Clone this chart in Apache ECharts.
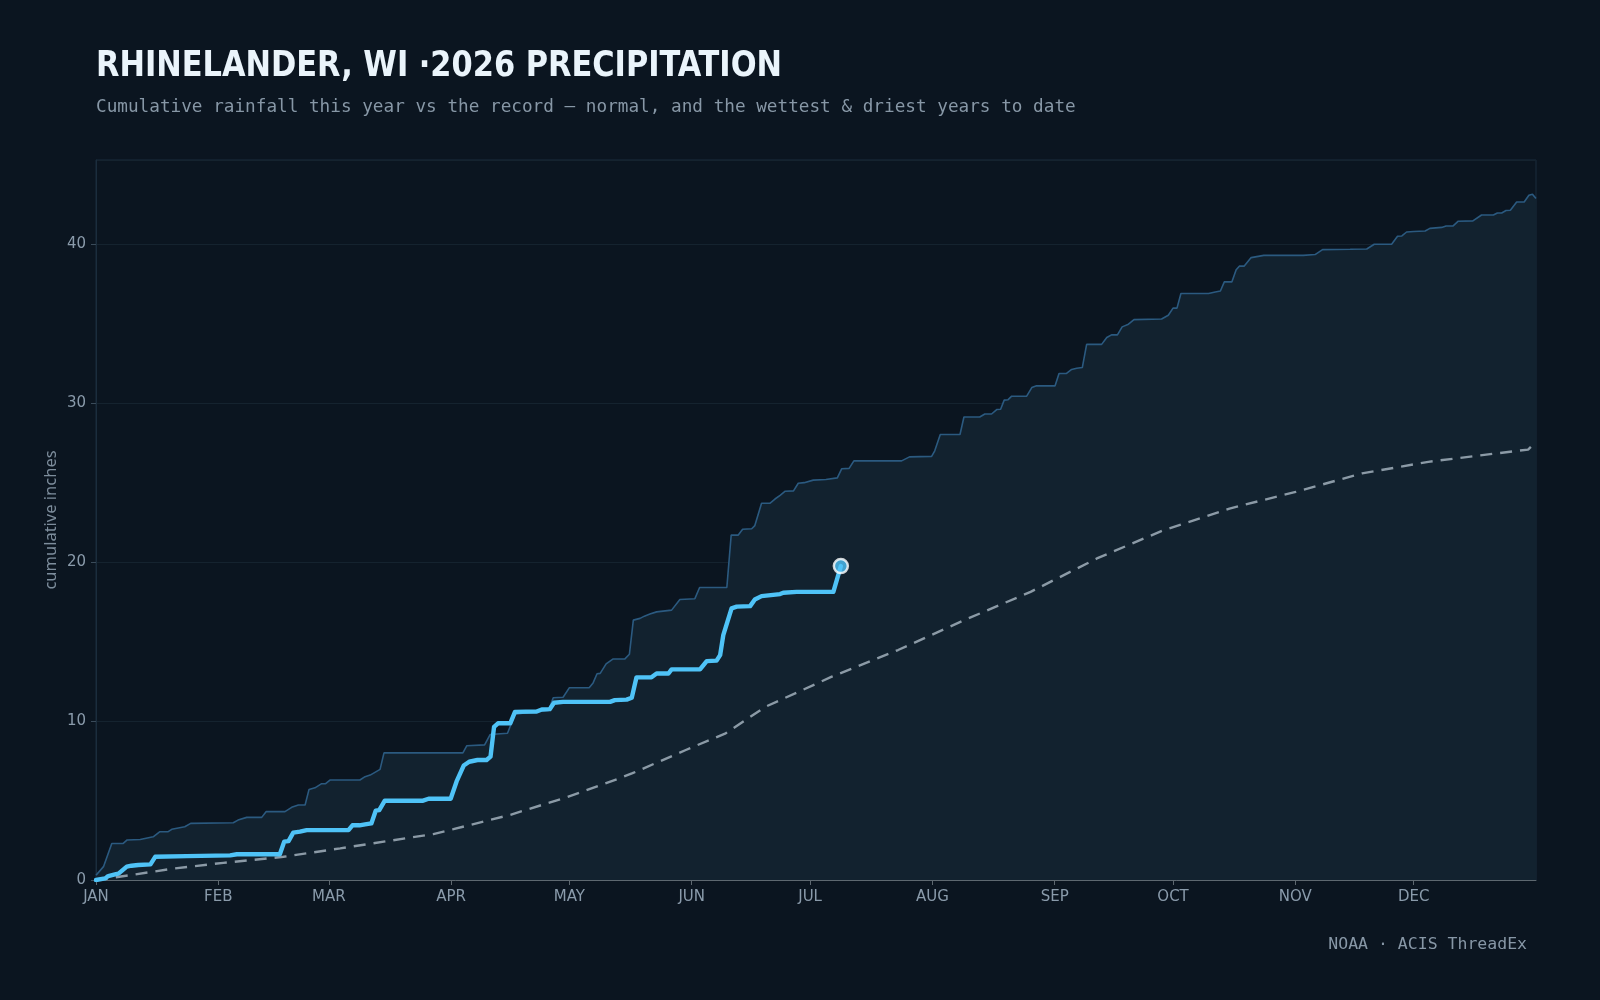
<!DOCTYPE html>
<html>
<head>
<meta charset="utf-8">
<title>Rhinelander precipitation</title>
<script src="https://cdn.jsdelivr.net/npm/echarts@6/dist/echarts.min.js"></script>
<style>
  html, body { margin:0; padding:0; background:#0b1520; }
  #chart     { width:1600px; height:1000px; }
</style>
</head>
<body>
<div id="chart"></div>
<script>
// month ticks (day of year, 2026 is not a leap year)
const monthNames = ['JAN','FEB','MAR','APR','MAY','JUN','JUL','AUG','SEP','OCT','NOV','DEC']
const monthStart = [0,31,59,90,120,151,181,212,243,273,304,334]
const yTicks     = [0,10,20,30,40]

// record wettest year to date (day of year, cumulative inches)
const wetDay = [0,1.9,4,6.9,7.9,11.2,14.5,16.2,18.3,19.2,22.5,24,34.8,36,38.2,42,43.1,47.9,49.6,51.3,53,54,55.5,57.2,58.2,59.3,
  66.9,68.2,69.5,72,73,93,94,98.5,99.9,104.3,106.2,107,110,114.7,115.9,118.4,120,125,126,127,127.8,129.3,131,134,135.2,136.2,
  137.9,139,140.4,142.1,145.9,148,151.8,153,159.9,161,162.8,163.9,166.2,167,168.7,170.8,172.1,173.4,174.7,176.8,178,179.5,
  181.8,185,187.9,189,190.9,192.1,204.2,206.2,211.8,212.6,214,219,220,224,225.3,227,228.3,229.3,230.2,231.2,232.1,235.9,
  237.2,238.4,243.1,244.1,246,247.3,248.6,250,251.1,254.9,256.2,257.4,258.9,260.1,261.7,263.1,270.1,271.8,273,274,275,282,
  283.7,285,286,287.9,289,289.8,291,292.8,296,306,309,310.9,317.9,322.1,324,328.4,329.9,331,332.2,334,336.9,338.1,341.1,
  342.2,344,345.3,349,351.2,354.2,355.2,356.3,357.4,358.5,360.1,362,363.2,364.1,365]
const wetIn  = [0.3,0.84,2.3,2.3,2.52,2.55,2.72,3.04,3.04,3.19,3.35,3.56,3.6,3.77,3.94,3.94,4.3,4.3,4.57,4.72,4.72,5.7,5.8,6.06,6.06,6.29,
  6.29,6.5,6.6,6.96,8.0,8.0,8.45,8.5,9.15,9.23,10.42,10.45,10.58,10.67,11.47,11.5,12.1,12.1,12.4,12.98,13.0,13.6,13.9,13.9,14.2,16.35,
  16.46,16.6,16.73,16.87,16.98,17.65,17.7,18.4,18.4,21.7,21.7,22.07,22.1,22.3,23.7,23.7,23.97,24.2,24.46,24.48,24.96,25.0,
  25.16,25.2,25.3,25.87,25.9,26.37,26.37,26.62,26.65,27.0,28.03,28.03,29.13,29.13,29.32,29.32,29.6,29.62,30.19,30.22,30.44,30.44,
  30.98,31.09,31.09,31.87,31.87,32.12,32.2,32.24,33.7,33.7,34.13,34.3,34.3,34.8,34.97,35.26,35.3,35.53,35.98,35.98,36.9,36.9,
  37.0,37.06,37.63,37.63,38.4,38.62,38.62,39.16,39.3,39.3,39.35,39.66,39.68,39.7,40.0,40.0,40.5,40.52,40.77,40.8,40.83,41.0,41.06,
  41.15,41.15,41.45,41.47,41.84,41.84,41.97,41.97,42.12,42.14,42.66,42.66,43.08,43.15,42.87]

// 2026 so far
const yearDay = [0,2.3,3.1,4.8,5.7,7.8,9,10.7,13.8,15,23,34,35.7,46.6,47.7,48.8,50,51.7,53.4,64,65,66.8,68.2,69.8,70.9,71.8,73.2,
  82.9,84.3,89.9,91.4,93.2,94.6,96.7,99,100,100.9,101.9,105,106.2,111.7,113,115,116.1,118.4,130.3,131.5,134.5,135.8,137,140.8,
  142.1,145.1,145.9,153.1,154.8,157.3,158.2,159,161.1,162.4,165.8,167,168.7,173.4,174.2,177.6,186.9,188.8]
const yearIn  = [0,0.1,0.25,0.35,0.4,0.84,0.9,0.94,0.98,1.46,1.5,1.55,1.62,1.62,2.41,2.45,2.98,3.04,3.14,3.14,3.44,3.44,3.5,3.56,4.36,4.4,4.99,
  4.99,5.11,5.11,6.2,7.2,7.44,7.55,7.55,7.76,9.64,9.86,9.86,10.58,10.6,10.73,10.75,11.15,11.21,11.21,11.32,11.35,11.47,12.75,12.75,
  12.99,12.99,13.25,13.25,13.77,13.8,14.15,15.41,17.09,17.2,17.23,17.65,17.86,17.99,18.07,18.13,18.13,19.75]

// 30-year normal
const normDay = [0,8.6,19.6,32.3,47.5,61.9,74.5,85.5,90.6,105,119.2,132.7,136,149.5,159.6,169.7,186.5,203.3,220.1,236.9,253.7,
  270.5,287.3,304.1,320.9,337.7,354.6,363,365]
const normIn  = [0,0.3,0.72,1.08,1.46,1.99,2.47,2.89,3.2,4.1,5.2,6.4,6.72,8.18,9.23,10.9,12.79,14.47,16.35,18.13,20.23,
  22.0,23.37,24.42,25.58,26.31,26.83,27.08,27.56]

const zip = (a, b) => a.map((d, i) => [d, b[i]])
const last = yearDay.length - 1

const chart = echarts.init(document.getElementById('chart'))

chart.setOption({
  backgroundColor: '#0b1520',
  animation: false,
  graphic: [
    // condensed look: squeeze the bold face a little
    { type:'text', left:96, top:49, scaleX:0.94,
      style:{ text:'RHINELANDER, WI ·2026 PRECIPITATION', fill:'#eaf4fb',
              font:"bold 36px 'DejaVu Sans Condensed', sans-serif" } },
    { type:'text', left:96, top:98,
      style:{ text:'Cumulative rainfall this year vs the record — normal, and the wettest & driest years to date',
              fill:'#8797a6', font:"17.7px 'DejaVu Sans Mono', monospace" } },
    { type:'text', right:73, top:936,
      style:{ text:'NOAA · ACIS ThreadEx', fill:'#8797a6', font:"16.5px 'DejaVu Sans Mono', monospace" } }
  ],
  grid: { left:96, right:64, top:160, bottom:120, show:true,
          borderColor:'#1b2d3d', borderWidth:1, backgroundColor:'#0b1520',
          outerBoundsMode:'none' },
  xAxis: {
    type:'value', min:0, max:365,
    axisLine:{ show:true, lineStyle:{ color:'#5e6870', width:1 } },
    axisTick:{ show:true, customValues:monthStart, length:5, lineStyle:{ color:'#5e6870' } },
    axisLabel:{ customValues:monthStart, margin:10, color:'#8a9bab', fontSize:15, fontFamily:'DejaVu Sans',
                formatter: v => monthNames[monthStart.indexOf(v)] || '' },
    splitLine:{ show:false }
  },
  yAxis: {
    type:'value', min:0, max:45.3, interval:10,
    name:'cumulative inches', nameLocation:'middle', nameGap:36, nameMoveOverlap:false,
    nameTextStyle:{ color:'#7d8d9c', fontSize:16.5, fontFamily:'Noto Sans' },
    axisLine:{ show:true, lineStyle:{ color:'#1b2d3d' } },
    axisTick:{ show:true, length:5, lineStyle:{ color:'#3a4b5a' } },
    axisLabel:{ margin:10, color:'#8a9bab', fontSize:15, fontFamily:'DejaVu Sans', showMaxLabel:false,
                formatter: v => yTicks.includes(v) ? String(v) : '' },
    splitLine:{ show:true, lineStyle:{ color:'#15232f', width:1 } }
  },
  series: [
    { name:'Wettest', type:'line', data:zip(wetDay, wetIn), showSymbol:false, z:2,
      lineStyle:{ color:'#2b5a80', width:1.6 },
      areaStyle:{ color:'#12222f', opacity:1 } },
    { name:'Normal', type:'line', data:zip(normDay, normIn), showSymbol:false, z:3,
      lineStyle:{ color:'#8b9aa6', width:2.4, type:[12,8] } },
    { name:'2026', type:'line', data:zip(yearDay, yearIn), showSymbol:false, z:4,
      lineStyle:{ color:'#4fc3f7', width:4.4, cap:'round', join:'round' } },
    { name:'Today', type:'scatter', data:[[yearDay[last], yearIn[last]]], z:5,
      symbolSize:14, itemStyle:{ color:'#4fc3f7', borderColor:'#ffffff', borderWidth:2.5 } }
  ]
})
</script>
</body>
</html>
